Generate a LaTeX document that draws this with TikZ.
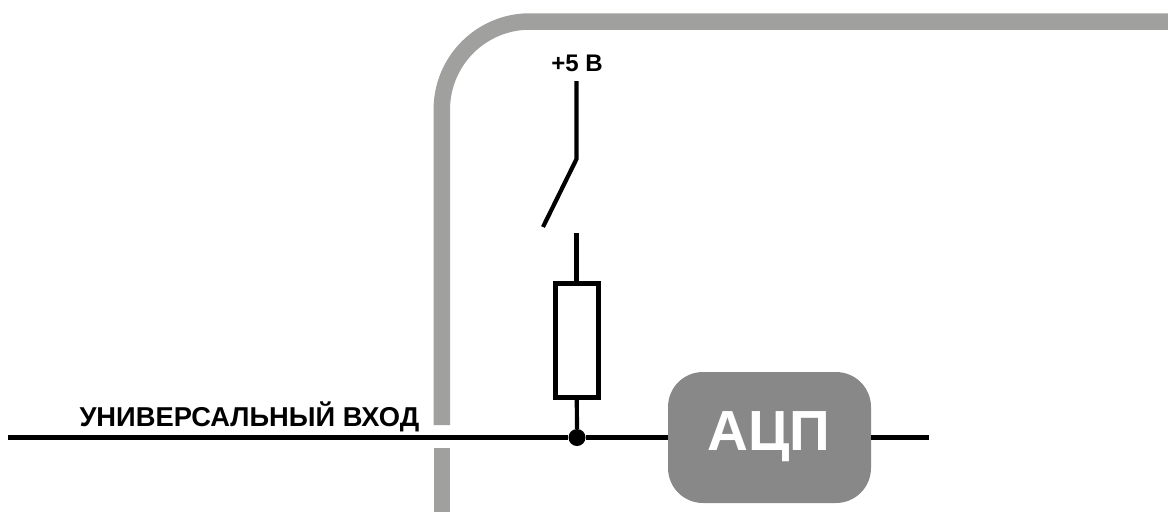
\documentclass[tikz,border=0pt]{standalone}
\usepackage{fontspec}
\setmainfont{Liberation Sans}
\definecolor{band}{HTML}{A0A09E}
\definecolor{adcgray}{HTML}{888888}
\tikzset{
  x=1pt,y=-1pt,
  wire/.style={draw=black,line width=4.2pt},
  mainwire/.style={draw=black,line width=4.5pt},
  bandline/.style={draw=band,line width=16.5pt},
  lbl/.style={font=\bfseries\fontsize{24}{28}\selectfont,text=black,inner sep=0pt},
  lblb/.style={font=\bfseries\fontsize{27.3}{30}\selectfont,text=black,inner sep=0pt},
  resbox/.style={draw=black,line width=5pt,fill=white,rectangle,minimum width=43pt,minimum height=113.5pt,inner sep=0pt},
  adcbox/.style={fill=adcgray,rounded corners=35pt,minimum width=203pt,minimum height=131pt,inner sep=0pt},
  adclabel/.style={text=white,font=\bfseries\fontsize{56.6}{60}\selectfont,inner sep=0pt},
  junction/.style={circle,fill=black,minimum size=17pt,inner sep=0pt}
}
\begin{document}
\begin{tikzpicture}
\useasboundingbox (0,0) rectangle (1168,512);
\draw[bandline,rounded corners=88pt] (441.8,425) -- (441.8,21.5) -- (1168,21.5);
\draw[bandline] (441.8,448) -- (441.8,512);
\coordinate (inL) at (8,437.5);
\coordinate (outR) at (929,437.5);
\coordinate (vtop) at (576.5,81);
\coordinate (hinge) at (576.5,159);
\coordinate (blade) at (543,227);
\coordinate (contact) at (576.5,233);
\node[resbox] (res) at (576.5,340.5) {};
\node[junction] (jn) at (577,437.5) {};
\node[adcbox] (adc) at (769.5,437.5) {};
\node[adclabel,anchor=base] (adctext) at (769,450) {АЦП};
\draw[mainwire] (inL) -- (jn);
\draw[mainwire] (jn) -- (adc);
\draw[mainwire] (adc) -- (outR);
\draw[wire] (res) -- (jn);
\draw[wire] (contact) -- (res);
\draw[wire,line join=miter] (vtop) -- (hinge) -- (blade);
\node[lbl,anchor=base] (vcc) at (577,71.5) {+5 В};
\node[lblb,anchor=base east] (inlabel) at (419.5,426) {УНИВЕРСАЛЬНЫЙ ВХОД};
\end{tikzpicture}
\end{document}
